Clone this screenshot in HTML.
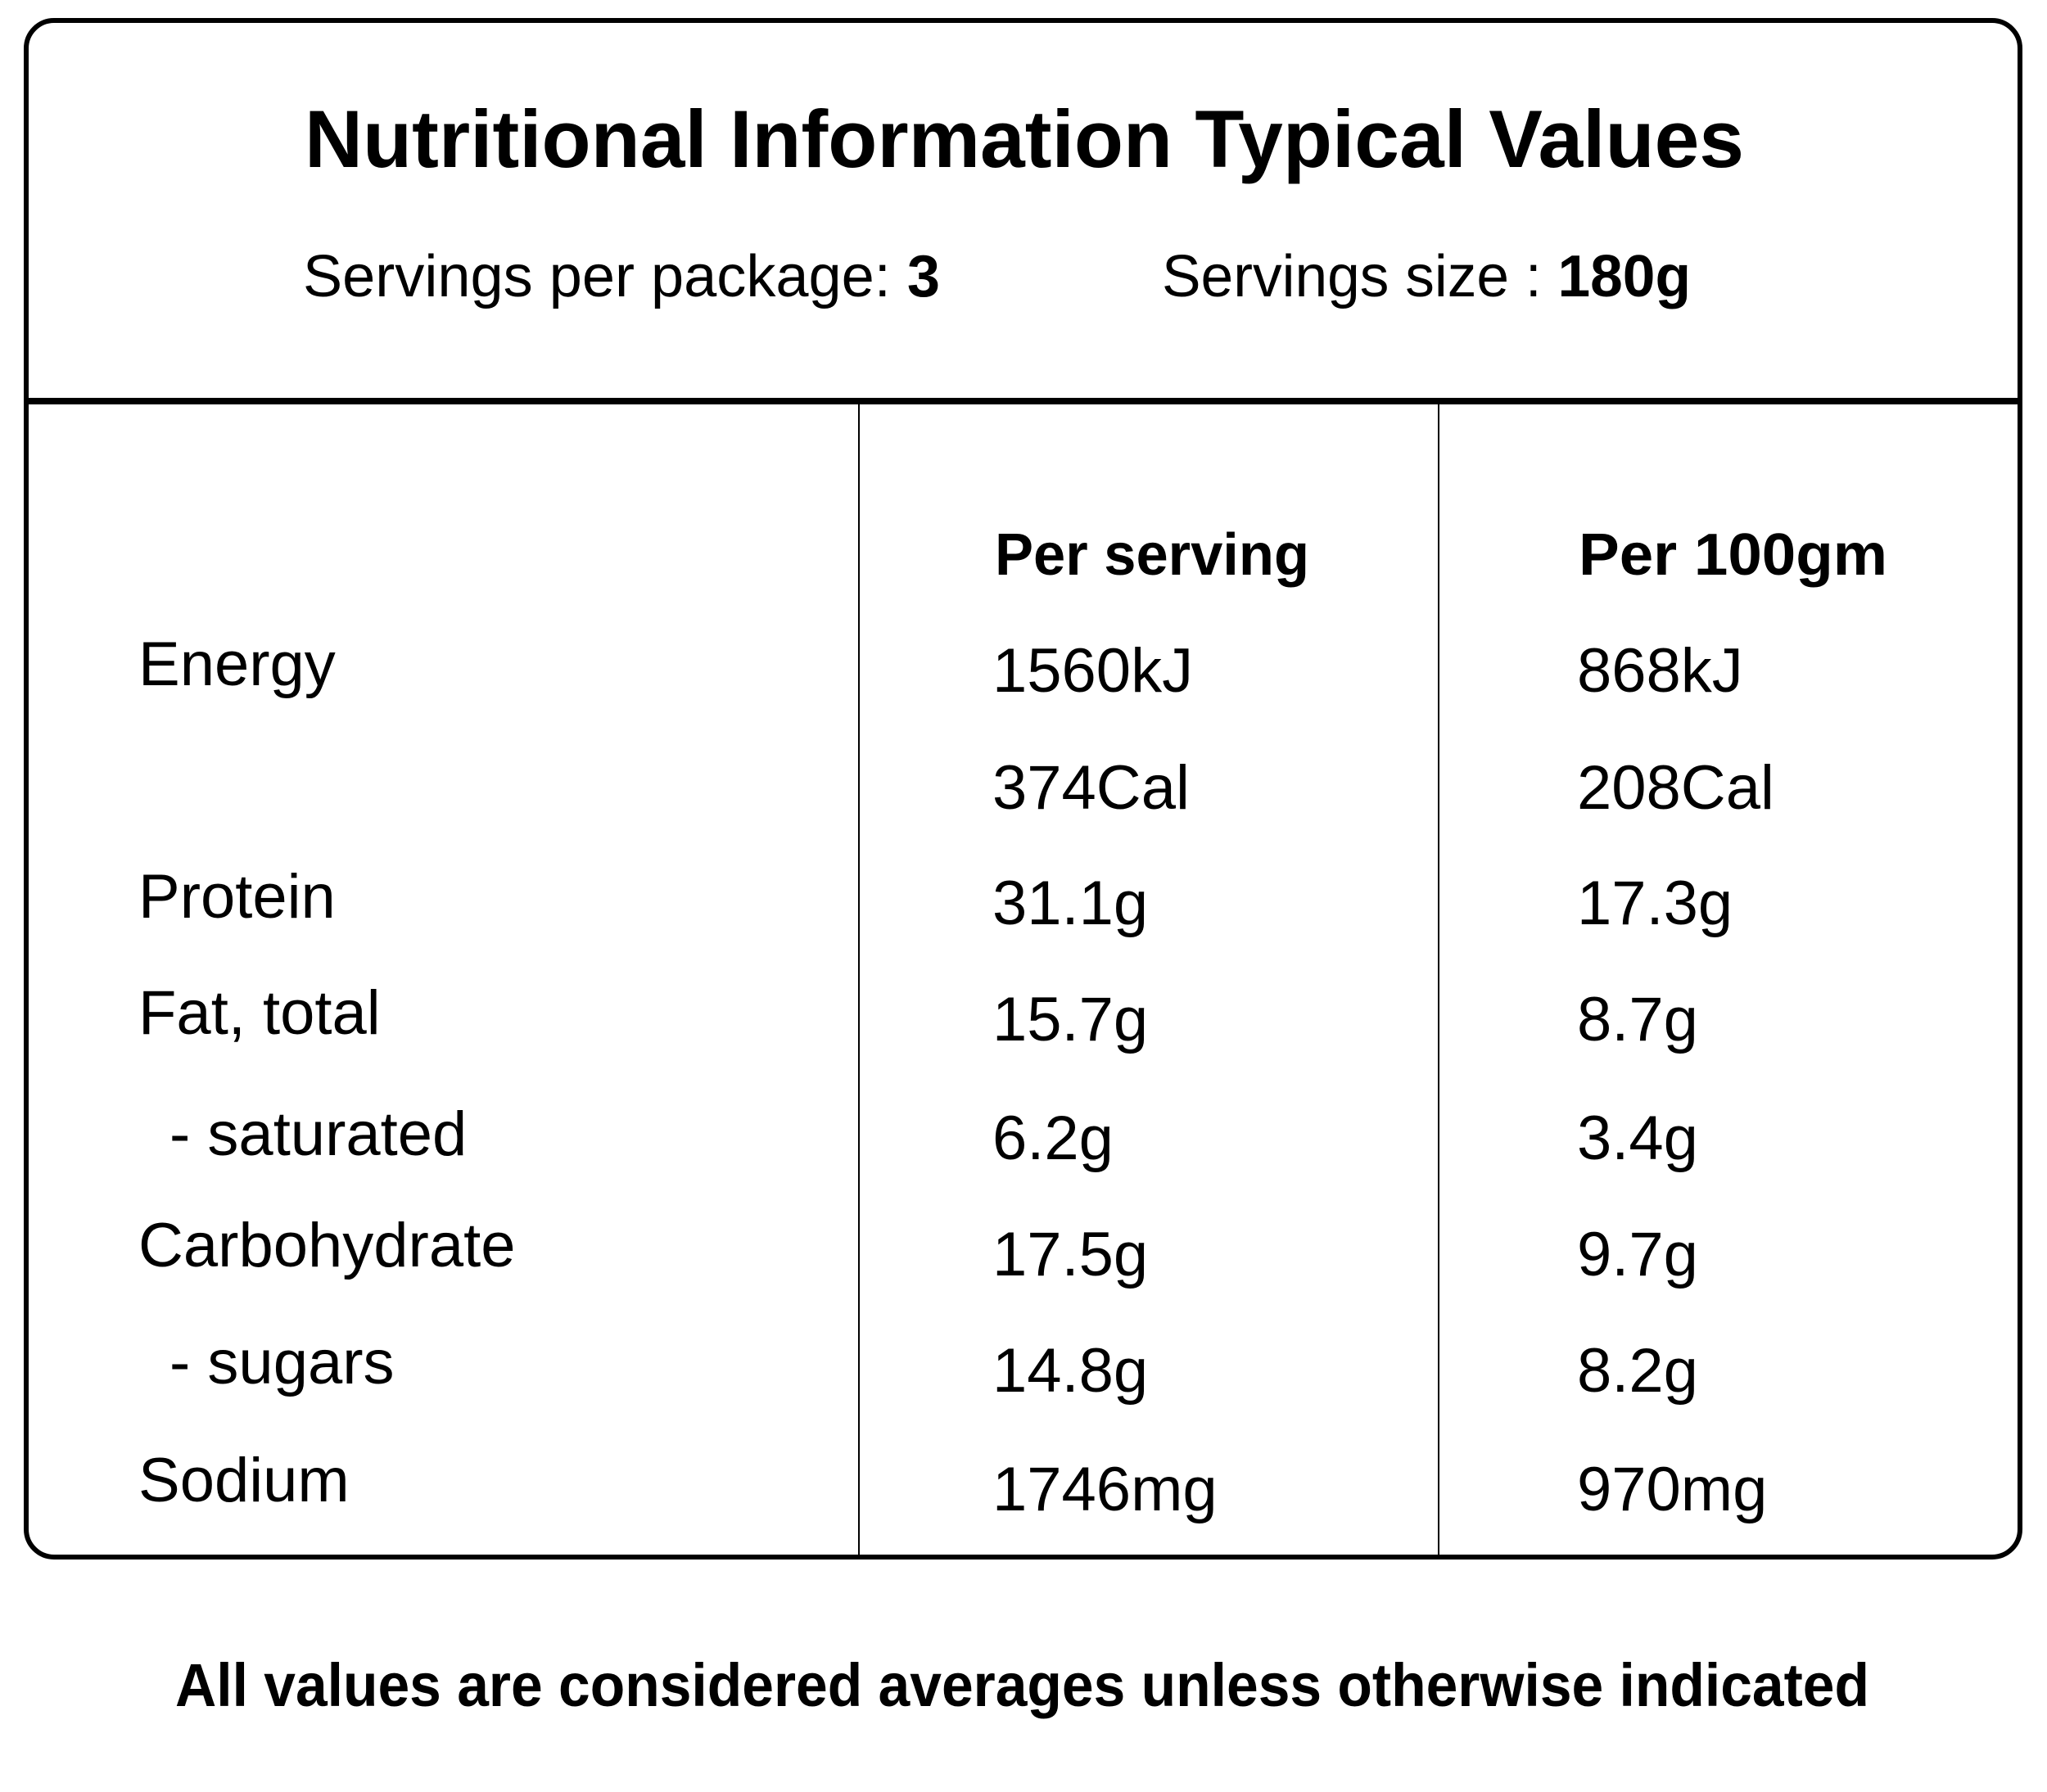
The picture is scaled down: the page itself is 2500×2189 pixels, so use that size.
<!DOCTYPE html>
<html><head><meta charset="utf-8"><style>
html,body{margin:0;padding:0;background:#fff;}
svg{display:block;}
text{font-family:"Liberation Sans",sans-serif;fill:#000;}
.b{font-weight:bold;}
.t{font-size:76px;}
</style></head><body>
<svg width="2500" height="2189" viewBox="0 0 2500 2189" xmlns="http://www.w3.org/2000/svg">
<rect x="0" y="0" width="2500" height="2189" fill="#fff"/>
<rect x="32" y="25" width="2435" height="1877" rx="34" ry="34" fill="none" stroke="#000" stroke-width="6"/>
<line x1="32" y1="490" x2="2467" y2="490" stroke="#000" stroke-width="8"/>
<line x1="1049" y1="494" x2="1049" y2="1902" stroke="#000" stroke-width="2"/>
<line x1="1757" y1="494" x2="1757" y2="1902" stroke="#000" stroke-width="2"/>

<text class="b" x="372" y="204" font-size="99" textLength="1758" lengthAdjust="spacingAndGlyphs">Nutritional Information Typical Values</text>
<text x="370" y="362" font-size="72" textLength="778" lengthAdjust="spacingAndGlyphs">Servings per package: <tspan class="b">3</tspan></text>
<text x="1419" y="362" font-size="72" textLength="646" lengthAdjust="spacingAndGlyphs">Servings size : <tspan class="b">180g</tspan></text>

<text class="b" x="1215" y="702" font-size="72" textLength="384" lengthAdjust="spacingAndGlyphs">Per serving</text>
<text class="b" x="1928" y="702" font-size="72" textLength="377" lengthAdjust="spacingAndGlyphs">Per 100gm</text>

<g class="t">
<text x="169" y="837" font-size="76">Energy</text>
<text x="169" y="1121" font-size="76">Protein</text>
<text x="169" y="1263" font-size="76">Fat, total</text>
<text x="207" y="1411" font-size="76">- saturated</text>
<text x="169" y="1547" font-size="76">Carbohydrate</text>
<text x="207" y="1690" font-size="76">- sugars</text>
<text x="169" y="1834" font-size="76">Sodium</text>

<text x="1212" y="845" font-size="76">1560kJ</text>
<text x="1212" y="988" font-size="76">374Cal</text>
<text x="1212" y="1129" font-size="76">31.1g</text>
<text x="1212" y="1271" font-size="76">15.7g</text>
<text x="1212" y="1416" font-size="76">6.2g</text>
<text x="1212" y="1558" font-size="76">17.5g</text>
<text x="1212" y="1700" font-size="76">14.8g</text>
<text x="1212" y="1845" font-size="76">1746mg</text>

<text x="1926" y="845" font-size="76">868kJ</text>
<text x="1926" y="988" font-size="76">208Cal</text>
<text x="1926" y="1129" font-size="76">17.3g</text>
<text x="1926" y="1271" font-size="76">8.7g</text>
<text x="1926" y="1416" font-size="76">3.4g</text>
<text x="1926" y="1558" font-size="76">9.7g</text>
<text x="1926" y="1700" font-size="76">8.2g</text>
<text x="1926" y="1845" font-size="76">970mg</text>
</g>

<text class="b" x="214" y="2084" font-size="74" textLength="2069" lengthAdjust="spacingAndGlyphs">All values are considered averages unless otherwise indicated</text>
</svg>
</body></html>
